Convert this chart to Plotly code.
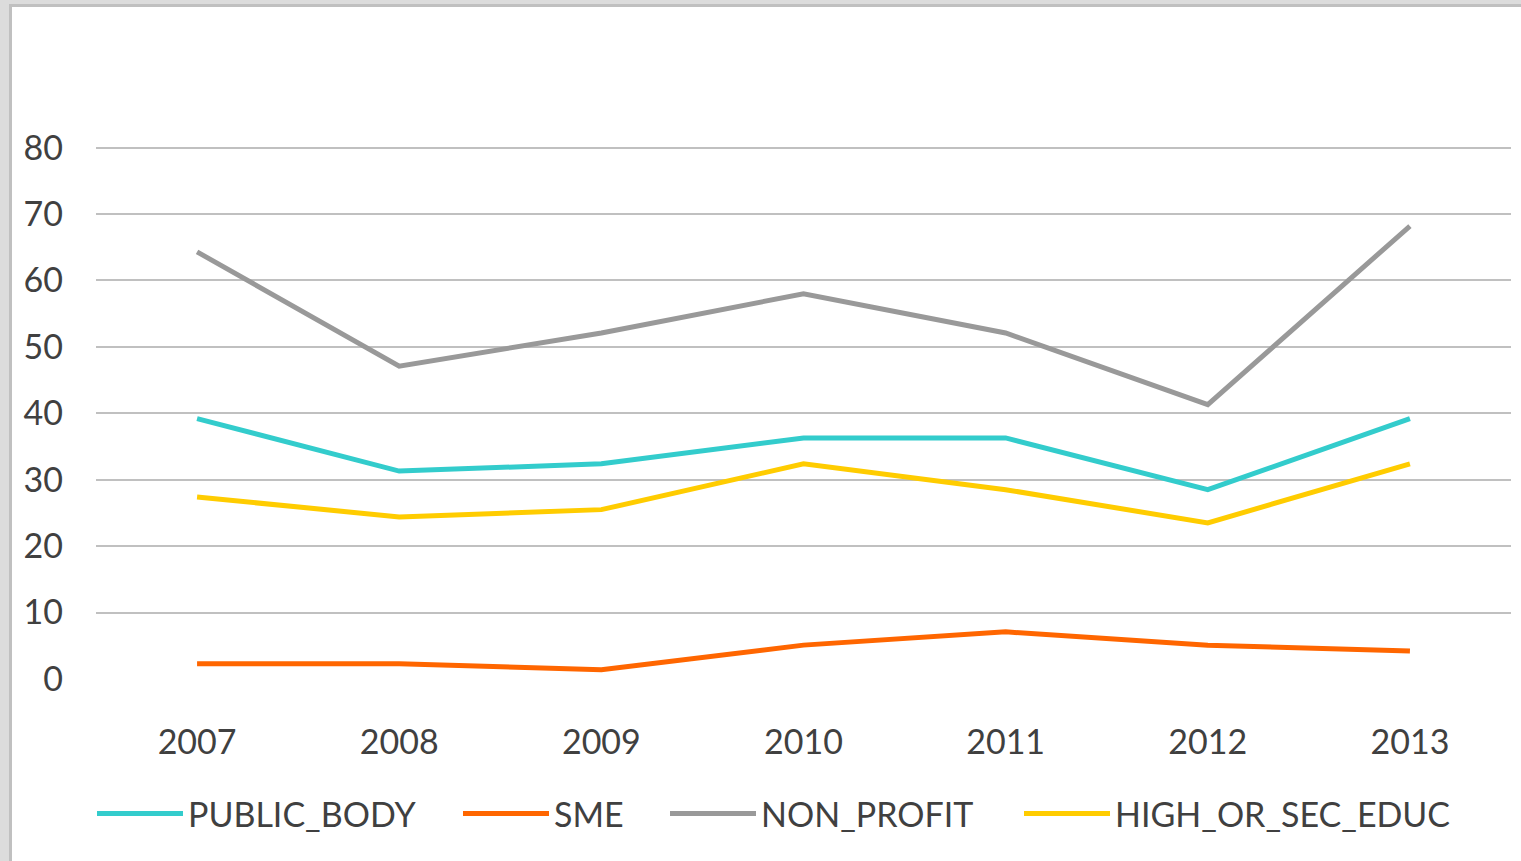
import plotly.graph_objects as go

years = ["2007", "2008", "2009", "2010", "2011", "2012", "2013"]
public_body = [39.2, 31.3, 32.4, 36.3, 36.3, 28.5, 39.2]
sme = [2.3, 2.3, 1.4, 5.1, 7.1, 5.1, 4.2]
non_profit = [64.3, 47.1, 52.1, 58.0, 52.1, 41.3, 68.2]
high_or_sec_educ = [27.4, 24.4, 25.5, 32.4, 28.5, 23.5, 32.4]
y_ticks = [0, 10, 20, 30, 40, 50, 60, 70, 80]

names = ["PUBLIC_BODY", "SME", "NON_PROFIT", "HIGH_OR_SEC_EDUC"]
values = [public_body, sme, non_profit, high_or_sec_educ]
colors = ["#33CCCC", "#FF6600", "#999999", "#FFCC00"]
legend_line_start = [97, 463, 670, 1024]  # screen px of legend line starts

W, H = 1521, 861
ml, mr, mt, mb = 96, 10, 141, 182
pw, ph = W - ml - mr, H - mt - mb

def px_x(p):
    return (p - ml) / pw

def px_y(p):
    return (H - mb - p) / ph

fig = go.Figure()
legend_ids = ["legend", "legend2", "legend3", "legend4"]
for i, (name, vals, col) in enumerate(zip(names, values, colors)):
    fig.add_trace(go.Scatter(x=years, y=vals, name=name, mode="lines",
                             line=dict(color=col, width=5), legend=legend_ids[i]))

fig.add_shape(type="rect", xref="paper", yref="paper",
              x0=px_x(10.5), x1=px_x(1560), y0=px_y(900), y1=px_y(5.5),
              fillcolor="white", line=dict(color="#c0c0c0", width=3), layer="below")

font_fam = "Lato, Open Sans, sans-serif"
txt = "#404040"
legend_common = dict(orientation="h", yanchor="middle", xanchor="left", itemwidth=86,
                     font=dict(size=34, color=txt), bgcolor="rgba(0,0,0,0)",
                     borderwidth=0)
layout_legends = {}
for i, lid in enumerate(legend_ids):
    layout_legends[lid] = dict(legend_common, x=px_x(legend_line_start[i] - 5),
                               y=px_y(814))

fig.update_layout(
    width=W, height=H,
    margin=dict(l=ml, r=mr, t=mt, b=mb),
    paper_bgcolor="#dcdcdc",
    plot_bgcolor="rgba(0,0,0,0)",
    font=dict(family=font_fam, size=34, color=txt),
    showlegend=True,
    xaxis=dict(type="category", range=[-0.5, 6.5], showgrid=False, zeroline=False,
               showline=False, ticks="", ticklabelstandoff=40,
               tickfont=dict(size=34, color=txt)),
    yaxis=dict(range=[0, 81], tickvals=y_ticks, showgrid=True, gridcolor="#c0c0c0",
               gridwidth=2, zeroline=False, showline=False, ticks="",
               ticklabelstandoff=32, tickfont=dict(size=34, color=txt)),
    **layout_legends,
)

fig.write_html("out.html", config={"displayModeBar": False},
               post_script="document.body.style.margin='0';document.body.style.overflow='hidden';")
